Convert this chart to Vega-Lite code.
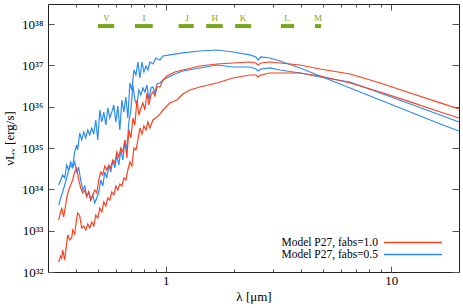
{
  "$schema": "https://vega.github.io/schema/vega-lite/v6.json",
  "width": 411,
  "height": 268,
  "autosize": {"type": "none"},
  "padding": {"left": 48, "top": 4, "right": 4, "bottom": 36},
  "config": {
    "view": {"stroke": "#222", "strokeWidth": 1},
    "font": "Liberation Serif",
    "axis": {"domain": false, "grid": false, "labelFont": "Liberation Serif", "titleFont": "Liberation Serif", "labelColor": "#000", "titleColor": "#000", "labelFontSize": 13, "titleFontSize": 13, "titleFontWeight": "normal", "tickColor": "#555", "tickWidth": 1},
    "legend": {"labelFont": "Liberation Serif"}
  },
  "datasets": {
    "bands": [
      {"band": "V", "lo": 0.50, "hi": 0.59, "center": 0.545},
      {"band": "I", "lo": 0.73, "hi": 0.875, "center": 0.80},
      {"band": "J", "lo": 1.14, "hi": 1.33, "center": 1.24},
      {"band": "H", "lo": 1.51, "hi": 1.79, "center": 1.65},
      {"band": "K", "lo": 2.03, "hi": 2.39, "center": 2.2},
      {"band": "L", "lo": 3.24, "hi": 3.71, "center": 3.45},
      {"band": "M", "lo": 4.59, "hi": 4.89, "center": 4.73}
    ],
    "spectra": [
      {"curve": "B1", "model": "fabs=0.5", "wavelength": 0.3346, "nuLnu": 1.28e34},
      {"curve": "B1", "model": "fabs=0.5", "wavelength": 0.3415, "nuLnu": 1.69e34},
      {"curve": "B1", "model": "fabs=0.5", "wavelength": 0.3486, "nuLnu": 2.23e34},
      {"curve": "B1", "model": "fabs=0.5", "wavelength": 0.3558, "nuLnu": 1.89e34},
      {"curve": "B1", "model": "fabs=0.5", "wavelength": 0.3631, "nuLnu": 3.90e34},
      {"curve": "B1", "model": "fabs=0.5", "wavelength": 0.3706, "nuLnu": 2.95e34},
      {"curve": "B1", "model": "fabs=0.5", "wavelength": 0.3783, "nuLnu": 4.61e34},
      {"curve": "B1", "model": "fabs=0.5", "wavelength": 0.3861, "nuLnu": 3.69e34},
      {"curve": "B1", "model": "fabs=0.5", "wavelength": 0.3941, "nuLnu": 8.05e34},
      {"curve": "B1", "model": "fabs=0.5", "wavelength": 0.4023, "nuLnu": 1.19e35},
      {"curve": "B1", "model": "fabs=0.5", "wavelength": 0.4064, "nuLnu": 8.99e34},
      {"curve": "B1", "model": "fabs=0.5", "wavelength": 0.4148, "nuLnu": 2.32e35},
      {"curve": "B1", "model": "fabs=0.5", "wavelength": 0.4234, "nuLnu": 1.57e35},
      {"curve": "B1", "model": "fabs=0.5", "wavelength": 0.4322, "nuLnu": 2.45e35},
      {"curve": "B1", "model": "fabs=0.5", "wavelength": 0.4411, "nuLnu": 1.76e35},
      {"curve": "B1", "model": "fabs=0.5", "wavelength": 0.4503, "nuLnu": 2.74e35},
      {"curve": "B1", "model": "fabs=0.5", "wavelength": 0.4596, "nuLnu": 2.08e35},
      {"curve": "B1", "model": "fabs=0.5", "wavelength": 0.4691, "nuLnu": 3.07e35},
      {"curve": "B1", "model": "fabs=0.5", "wavelength": 0.4789, "nuLnu": 2.19e35},
      {"curve": "B1", "model": "fabs=0.5", "wavelength": 0.4888, "nuLnu": 4.79e35},
      {"curve": "B1", "model": "fabs=0.5", "wavelength": 0.4989, "nuLnu": 1.57e35},
      {"curve": "B1", "model": "fabs=0.5", "wavelength": 0.5093, "nuLnu": 8.37e35},
      {"curve": "B1", "model": "fabs=0.5", "wavelength": 0.5198, "nuLnu": 4.29e35},
      {"curve": "B1", "model": "fabs=0.5", "wavelength": 0.5306, "nuLnu": 7.48e35},
      {"curve": "B1", "model": "fabs=0.5", "wavelength": 0.5416, "nuLnu": 3.63e35},
      {"curve": "B1", "model": "fabs=0.5", "wavelength": 0.5528, "nuLnu": 9.35e35},
      {"curve": "B1", "model": "fabs=0.5", "wavelength": 0.5642, "nuLnu": 5.36e35},
      {"curve": "B1", "model": "fabs=0.5", "wavelength": 0.5759, "nuLnu": 7.48e35},
      {"curve": "B1", "model": "fabs=0.5", "wavelength": 0.5878, "nuLnu": 1.105e36},
      {"curve": "B1", "model": "fabs=0.5", "wavelength": 0.6000, "nuLnu": 4.29e35},
      {"curve": "B1", "model": "fabs=0.5", "wavelength": 0.6124, "nuLnu": 1.046e36},
      {"curve": "B1", "model": "fabs=0.5", "wavelength": 0.6251, "nuLnu": 2.74e35},
      {"curve": "B1", "model": "fabs=0.5", "wavelength": 0.6381, "nuLnu": 1.46e36},
      {"curve": "B1", "model": "fabs=0.5", "wavelength": 0.6513, "nuLnu": 7.48e35},
      {"curve": "B1", "model": "fabs=0.5", "wavelength": 0.6648, "nuLnu": 1.73e36},
      {"curve": "B1", "model": "fabs=0.5", "wavelength": 0.6785, "nuLnu": 5.36e35},
      {"curve": "B1", "model": "fabs=0.5", "wavelength": 0.6926, "nuLnu": 3.77e36},
      {"curve": "B1", "model": "fabs=0.5", "wavelength": 0.7069, "nuLnu": 2.55e36},
      {"curve": "B1", "model": "fabs=0.5", "wavelength": 0.7216, "nuLnu": 7.78e36},
      {"curve": "B1", "model": "fabs=0.5", "wavelength": 0.7365, "nuLnu": 5.89e36},
      {"curve": "B1", "model": "fabs=0.5", "wavelength": 0.7518, "nuLnu": 1.215e37},
      {"curve": "B1", "model": "fabs=0.5", "wavelength": 0.7673, "nuLnu": 4.98e36},
      {"curve": "B1", "model": "fabs=0.5", "wavelength": 0.7832, "nuLnu": 1.215e37},
      {"curve": "B1", "model": "fabs=0.5", "wavelength": 0.7994, "nuLnu": 6.96e36},
      {"curve": "B1", "model": "fabs=0.5", "wavelength": 0.8160, "nuLnu": 9.72e36},
      {"curve": "B1", "model": "fabs=0.5", "wavelength": 0.8329, "nuLnu": 7.78e36},
      {"curve": "B1", "model": "fabs=0.5", "wavelength": 0.8501, "nuLnu": 1.215e37},
      {"curve": "B1", "model": "fabs=0.5", "wavelength": 0.8767, "nuLnu": 1.087e37},
      {"curve": "B1", "model": "fabs=0.5", "wavelength": 0.9041, "nuLnu": 1.519e37},
      {"curve": "B1", "model": "fabs=0.5", "wavelength": 0.9419, "nuLnu": 1.359e37},
      {"curve": "B1", "model": "fabs=0.5", "wavelength": 0.9713, "nuLnu": 1.698e37},
      {"curve": "B1", "model": "fabs=0.5", "wavelength": 1.0418, "nuLnu": 1.80e37},
      {"curve": "B1", "model": "fabs=0.5", "wavelength": 1.1901, "nuLnu": 2.01e37},
      {"curve": "B1", "model": "fabs=0.5", "wavelength": 1.4158, "nuLnu": 2.24e37},
      {"curve": "B1", "model": "fabs=0.5", "wavelength": 1.6856, "nuLnu": 2.37e37},
      {"curve": "B1", "model": "fabs=0.5", "wavelength": 1.9852, "nuLnu": 2.12e37},
      {"curve": "B1", "model": "fabs=0.5", "wavelength": 2.3604, "nuLnu": 1.80e37},
      {"curve": "B1", "model": "fabs=0.5", "wavelength": 2.5119, "nuLnu": 1.606e37},
      {"curve": "B1", "model": "fabs=0.5", "wavelength": 2.5643, "nuLnu": 1.359e37},
      {"curve": "B1", "model": "fabs=0.5", "wavelength": 2.6444, "nuLnu": 1.606e37},
      {"curve": "B1", "model": "fabs=0.5", "wavelength": 2.8953, "nuLnu": 1.519e37},
      {"curve": "B1", "model": "fabs=0.5", "wavelength": 3.2118, "nuLnu": 1.285e37},
      {"curve": "B1", "model": "fabs=0.5", "wavelength": 3.9397, "nuLnu": 8.70e36},
      {"curve": "B1", "model": "fabs=0.5", "wavelength": 4.8339, "nuLnu": 5.57e36},
      {"curve": "B1", "model": "fabs=0.5", "wavelength": 6.574, "nuLnu": 2.85e36},
      {"curve": "B1", "model": "fabs=0.5", "wavelength": 8.9337, "nuLnu": 1.46e36},
      {"curve": "B1", "model": "fabs=0.5", "wavelength": 12.149, "nuLnu": 7.48e35},
      {"curve": "B1", "model": "fabs=0.5", "wavelength": 16.517, "nuLnu": 3.83e35},
      {"curve": "B1", "model": "fabs=0.5", "wavelength": 20, "nuLnu": 2.59e35},

      {"curve": "B2", "model": "fabs=0.5", "wavelength": 0.3346, "nuLnu": 4.19e33},
      {"curve": "B2", "model": "fabs=0.5", "wavelength": 0.3415, "nuLnu": 6.19e33},
      {"curve": "B2", "model": "fabs=0.5", "wavelength": 0.3486, "nuLnu": 8.65e33},
      {"curve": "B2", "model": "fabs=0.5", "wavelength": 0.3558, "nuLnu": 1.28e34},
      {"curve": "B2", "model": "fabs=0.5", "wavelength": 0.3631, "nuLnu": 1.89e34},
      {"curve": "B2", "model": "fabs=0.5", "wavelength": 0.3706, "nuLnu": 2.95e34},
      {"curve": "B2", "model": "fabs=0.5", "wavelength": 0.3783, "nuLnu": 3.90e34},
      {"curve": "B2", "model": "fabs=0.5", "wavelength": 0.3861, "nuLnu": 3.30e34},
      {"curve": "B2", "model": "fabs=0.5", "wavelength": 0.3941, "nuLnu": 4.61e34},
      {"curve": "B2", "model": "fabs=0.5", "wavelength": 0.4023, "nuLnu": 2.64e34},
      {"curve": "B2", "model": "fabs=0.5", "wavelength": 0.4106, "nuLnu": 3.30e34},
      {"curve": "B2", "model": "fabs=0.5", "wavelength": 0.4191, "nuLnu": 1.69e34},
      {"curve": "B2", "model": "fabs=0.5", "wavelength": 0.4278, "nuLnu": 9.67e33},
      {"curve": "B2", "model": "fabs=0.5", "wavelength": 0.4366, "nuLnu": 1.21e34},
      {"curve": "B2", "model": "fabs=0.5", "wavelength": 0.4457, "nuLnu": 6.92e33},
      {"curve": "B2", "model": "fabs=0.5", "wavelength": 0.4549, "nuLnu": 8.65e33},
      {"curve": "B2", "model": "fabs=0.5", "wavelength": 0.4643, "nuLnu": 5.54e33},
      {"curve": "B2", "model": "fabs=0.5", "wavelength": 0.4740, "nuLnu": 7.32e33},
      {"curve": "B2", "model": "fabs=0.5", "wavelength": 0.4838, "nuLnu": 4.69e33},
      {"curve": "B2", "model": "fabs=0.5", "wavelength": 0.4938, "nuLnu": 6.19e33},
      {"curve": "B2", "model": "fabs=0.5", "wavelength": 0.5040, "nuLnu": 8.65e33},
      {"curve": "B2", "model": "fabs=0.5", "wavelength": 0.5145, "nuLnu": 1.69e34},
      {"curve": "B2", "model": "fabs=0.5", "wavelength": 0.5251, "nuLnu": 1.21e34},
      {"curve": "B2", "model": "fabs=0.5", "wavelength": 0.5360, "nuLnu": 2.64e34},
      {"curve": "B2", "model": "fabs=0.5", "wavelength": 0.5471, "nuLnu": 1.89e34},
      {"curve": "B2", "model": "fabs=0.5", "wavelength": 0.5585, "nuLnu": 3.69e34},
      {"curve": "B2", "model": "fabs=0.5", "wavelength": 0.5700, "nuLnu": 2.64e34},
      {"curve": "B2", "model": "fabs=0.5", "wavelength": 0.5818, "nuLnu": 5.15e34},
      {"curve": "B2", "model": "fabs=0.5", "wavelength": 0.5939, "nuLnu": 3.30e34},
      {"curve": "B2", "model": "fabs=0.5", "wavelength": 0.6062, "nuLnu": 6.81e34},
      {"curve": "B2", "model": "fabs=0.5", "wavelength": 0.6187, "nuLnu": 3.90e34},
      {"curve": "B2", "model": "fabs=0.5", "wavelength": 0.6316, "nuLnu": 8.99e34},
      {"curve": "B2", "model": "fabs=0.5", "wavelength": 0.6446, "nuLnu": 5.15e34},
      {"curve": "B2", "model": "fabs=0.5", "wavelength": 0.6580, "nuLnu": 1.57e35},
      {"curve": "B2", "model": "fabs=0.5", "wavelength": 0.6716, "nuLnu": 8.99e34},
      {"curve": "B2", "model": "fabs=0.5", "wavelength": 0.6855, "nuLnu": 4.29e35},
      {"curve": "B2", "model": "fabs=0.5", "wavelength": 0.6997, "nuLnu": 8.37e35},
      {"curve": "B2", "model": "fabs=0.5", "wavelength": 0.7142, "nuLnu": 3.37e36},
      {"curve": "B2", "model": "fabs=0.5", "wavelength": 0.7290, "nuLnu": 1.46e36},
      {"curve": "B2", "model": "fabs=0.5", "wavelength": 0.7441, "nuLnu": 1.105e36},
      {"curve": "B2", "model": "fabs=0.5", "wavelength": 0.7595, "nuLnu": 2.55e36},
      {"curve": "B2", "model": "fabs=0.5", "wavelength": 0.7752, "nuLnu": 1.93e36},
      {"curve": "B2", "model": "fabs=0.5", "wavelength": 0.7913, "nuLnu": 2.85e36},
      {"curve": "B2", "model": "fabs=0.5", "wavelength": 0.8077, "nuLnu": 2.28e36},
      {"curve": "B2", "model": "fabs=0.5", "wavelength": 0.8244, "nuLnu": 3.37e36},
      {"curve": "B2", "model": "fabs=0.5", "wavelength": 0.8415, "nuLnu": 1.46e36},
      {"curve": "B2", "model": "fabs=0.5", "wavelength": 0.8589, "nuLnu": 2.85e36},
      {"curve": "B2", "model": "fabs=0.5", "wavelength": 0.8767, "nuLnu": 3.02e36},
      {"curve": "B2", "model": "fabs=0.5", "wavelength": 0.8948, "nuLnu": 2.16e36},
      {"curve": "B2", "model": "fabs=0.5", "wavelength": 0.9134, "nuLnu": 3.57e36},
      {"curve": "B2", "model": "fabs=0.5", "wavelength": 0.9419, "nuLnu": 3.77e36},
      {"curve": "B2", "model": "fabs=0.5", "wavelength": 0.9713, "nuLnu": 4.46e36},
      {"curve": "B2", "model": "fabs=0.5", "wavelength": 1.0103, "nuLnu": 4.98e36},
      {"curve": "B2", "model": "fabs=0.5", "wavelength": 1.0965, "nuLnu": 6.23e36},
      {"curve": "B2", "model": "fabs=0.5", "wavelength": 1.1901, "nuLnu": 7.36e36},
      {"curve": "B2", "model": "fabs=0.5", "wavelength": 1.4158, "nuLnu": 8.70e36},
      {"curve": "B2", "model": "fabs=0.5", "wavelength": 1.6856, "nuLnu": 1.028e37},
      {"curve": "B2", "model": "fabs=0.5", "wavelength": 1.9852, "nuLnu": 9.20e36},
      {"curve": "B2", "model": "fabs=0.5", "wavelength": 2.3604, "nuLnu": 9.20e36},
      {"curve": "B2", "model": "fabs=0.5", "wavelength": 2.5119, "nuLnu": 8.23e36},
      {"curve": "B2", "model": "fabs=0.5", "wavelength": 2.5643, "nuLnu": 7.36e36},
      {"curve": "B2", "model": "fabs=0.5", "wavelength": 2.6444, "nuLnu": 8.23e36},
      {"curve": "B2", "model": "fabs=0.5", "wavelength": 2.8953, "nuLnu": 8.70e36},
      {"curve": "B2", "model": "fabs=0.5", "wavelength": 3.2118, "nuLnu": 7.78e36},
      {"curve": "B2", "model": "fabs=0.5", "wavelength": 3.9397, "nuLnu": 6.58e36},
      {"curve": "B2", "model": "fabs=0.5", "wavelength": 4.8339, "nuLnu": 5.27e36},
      {"curve": "B2", "model": "fabs=0.5", "wavelength": 6.574, "nuLnu": 3.99e36},
      {"curve": "B2", "model": "fabs=0.5", "wavelength": 8.9337, "nuLnu": 2.16e36},
      {"curve": "B2", "model": "fabs=0.5", "wavelength": 12.149, "nuLnu": 1.17e36},
      {"curve": "B2", "model": "fabs=0.5", "wavelength": 16.517, "nuLnu": 6.33e35},
      {"curve": "B2", "model": "fabs=0.5", "wavelength": 20, "nuLnu": 4.29e35},

      {"curve": "R1", "model": "fabs=1.0", "wavelength": 0.3346, "nuLnu": 1.82e33},
      {"curve": "R1", "model": "fabs=1.0", "wavelength": 0.3415, "nuLnu": 2.84e33},
      {"curve": "R1", "model": "fabs=1.0", "wavelength": 0.3450, "nuLnu": 3.55e33},
      {"curve": "R1", "model": "fabs=1.0", "wavelength": 0.3521, "nuLnu": 2.15e33},
      {"curve": "R1", "model": "fabs=1.0", "wavelength": 0.3594, "nuLnu": 4.19e33},
      {"curve": "R1", "model": "fabs=1.0", "wavelength": 0.3631, "nuLnu": 6.19e33},
      {"curve": "R1", "model": "fabs=1.0", "wavelength": 0.3706, "nuLnu": 9.67e33},
      {"curve": "R1", "model": "fabs=1.0", "wavelength": 0.3783, "nuLnu": 1.28e34},
      {"curve": "R1", "model": "fabs=1.0", "wavelength": 0.3861, "nuLnu": 1.69e34},
      {"curve": "R1", "model": "fabs=1.0", "wavelength": 0.3941, "nuLnu": 2.64e34},
      {"curve": "R1", "model": "fabs=1.0", "wavelength": 0.4023, "nuLnu": 3.30e34},
      {"curve": "R1", "model": "fabs=1.0", "wavelength": 0.4106, "nuLnu": 1.69e34},
      {"curve": "R1", "model": "fabs=1.0", "wavelength": 0.4191, "nuLnu": 1.08e34},
      {"curve": "R1", "model": "fabs=1.0", "wavelength": 0.4278, "nuLnu": 8.18e33},
      {"curve": "R1", "model": "fabs=1.0", "wavelength": 0.4366, "nuLnu": 9.67e33},
      {"curve": "R1", "model": "fabs=1.0", "wavelength": 0.4457, "nuLnu": 6.55e33},
      {"curve": "R1", "model": "fabs=1.0", "wavelength": 0.4549, "nuLnu": 8.65e33},
      {"curve": "R1", "model": "fabs=1.0", "wavelength": 0.4643, "nuLnu": 5.54e33},
      {"curve": "R1", "model": "fabs=1.0", "wavelength": 0.4740, "nuLnu": 7.32e33},
      {"curve": "R1", "model": "fabs=1.0", "wavelength": 0.4838, "nuLnu": 9.67e33},
      {"curve": "R1", "model": "fabs=1.0", "wavelength": 0.4938, "nuLnu": 8.18e33},
      {"curve": "R1", "model": "fabs=1.0", "wavelength": 0.5040, "nuLnu": 1.69e34},
      {"curve": "R1", "model": "fabs=1.0", "wavelength": 0.5145, "nuLnu": 2.64e34},
      {"curve": "R1", "model": "fabs=1.0", "wavelength": 0.5251, "nuLnu": 2.23e34},
      {"curve": "R1", "model": "fabs=1.0", "wavelength": 0.5360, "nuLnu": 3.69e34},
      {"curve": "R1", "model": "fabs=1.0", "wavelength": 0.5471, "nuLnu": 2.95e34},
      {"curve": "R1", "model": "fabs=1.0", "wavelength": 0.5585, "nuLnu": 3.90e34},
      {"curve": "R1", "model": "fabs=1.0", "wavelength": 0.5700, "nuLnu": 3.30e34},
      {"curve": "R1", "model": "fabs=1.0", "wavelength": 0.5818, "nuLnu": 5.15e34},
      {"curve": "R1", "model": "fabs=1.0", "wavelength": 0.5939, "nuLnu": 4.36e34},
      {"curve": "R1", "model": "fabs=1.0", "wavelength": 0.6062, "nuLnu": 8.05e34},
      {"curve": "R1", "model": "fabs=1.0", "wavelength": 0.6187, "nuLnu": 6.09e34},
      {"curve": "R1", "model": "fabs=1.0", "wavelength": 0.6316, "nuLnu": 1.006e35},
      {"curve": "R1", "model": "fabs=1.0", "wavelength": 0.6446, "nuLnu": 8.05e34},
      {"curve": "R1", "model": "fabs=1.0", "wavelength": 0.6580, "nuLnu": 1.57e35},
      {"curve": "R1", "model": "fabs=1.0", "wavelength": 0.6716, "nuLnu": 5.76e34},
      {"curve": "R1", "model": "fabs=1.0", "wavelength": 0.6855, "nuLnu": 2.74e35},
      {"curve": "R1", "model": "fabs=1.0", "wavelength": 0.6997, "nuLnu": 1.76e35},
      {"curve": "R1", "model": "fabs=1.0", "wavelength": 0.7142, "nuLnu": 5.36e35},
      {"curve": "R1", "model": "fabs=1.0", "wavelength": 0.7290, "nuLnu": 3.63e35},
      {"curve": "R1", "model": "fabs=1.0", "wavelength": 0.7441, "nuLnu": 1.46e36},
      {"curve": "R1", "model": "fabs=1.0", "wavelength": 0.7595, "nuLnu": 6.33e35},
      {"curve": "R1", "model": "fabs=1.0", "wavelength": 0.7752, "nuLnu": 9.35e35},
      {"curve": "R1", "model": "fabs=1.0", "wavelength": 0.7913, "nuLnu": 1.24e36},
      {"curve": "R1", "model": "fabs=1.0", "wavelength": 0.8077, "nuLnu": 8.37e35},
      {"curve": "R1", "model": "fabs=1.0", "wavelength": 0.8244, "nuLnu": 2.16e36},
      {"curve": "R1", "model": "fabs=1.0", "wavelength": 0.8415, "nuLnu": 1.105e36},
      {"curve": "R1", "model": "fabs=1.0", "wavelength": 0.8589, "nuLnu": 1.93e36},
      {"curve": "R1", "model": "fabs=1.0", "wavelength": 0.8767, "nuLnu": 2.28e36},
      {"curve": "R1", "model": "fabs=1.0", "wavelength": 0.8948, "nuLnu": 1.83e36},
      {"curve": "R1", "model": "fabs=1.0", "wavelength": 0.9134, "nuLnu": 3.02e36},
      {"curve": "R1", "model": "fabs=1.0", "wavelength": 0.9419, "nuLnu": 3.02e36},
      {"curve": "R1", "model": "fabs=1.0", "wavelength": 0.9713, "nuLnu": 4.46e36},
      {"curve": "R1", "model": "fabs=1.0", "wavelength": 1.0103, "nuLnu": 5.57e36},
      {"curve": "R1", "model": "fabs=1.0", "wavelength": 1.0965, "nuLnu": 6.96e36},
      {"curve": "R1", "model": "fabs=1.0", "wavelength": 1.1901, "nuLnu": 7.78e36},
      {"curve": "R1", "model": "fabs=1.0", "wavelength": 1.4158, "nuLnu": 9.72e36},
      {"curve": "R1", "model": "fabs=1.0", "wavelength": 1.6856, "nuLnu": 1.087e37},
      {"curve": "R1", "model": "fabs=1.0", "wavelength": 1.9852, "nuLnu": 1.150e37},
      {"curve": "R1", "model": "fabs=1.0", "wavelength": 2.3604, "nuLnu": 1.215e37},
      {"curve": "R1", "model": "fabs=1.0", "wavelength": 2.5119, "nuLnu": 1.150e37},
      {"curve": "R1", "model": "fabs=1.0", "wavelength": 2.5643, "nuLnu": 1.028e37},
      {"curve": "R1", "model": "fabs=1.0", "wavelength": 2.6444, "nuLnu": 1.150e37},
      {"curve": "R1", "model": "fabs=1.0", "wavelength": 2.8953, "nuLnu": 1.215e37},
      {"curve": "R1", "model": "fabs=1.0", "wavelength": 3.2118, "nuLnu": 1.150e37},
      {"curve": "R1", "model": "fabs=1.0", "wavelength": 3.9397, "nuLnu": 1.028e37},
      {"curve": "R1", "model": "fabs=1.0", "wavelength": 4.8339, "nuLnu": 8.23e36},
      {"curve": "R1", "model": "fabs=1.0", "wavelength": 6.574, "nuLnu": 6.23e36},
      {"curve": "R1", "model": "fabs=1.0", "wavelength": 8.9337, "nuLnu": 3.77e36},
      {"curve": "R1", "model": "fabs=1.0", "wavelength": 12.149, "nuLnu": 2.16e36},
      {"curve": "R1", "model": "fabs=1.0", "wavelength": 16.517, "nuLnu": 1.24e36},
      {"curve": "R1", "model": "fabs=1.0", "wavelength": 20, "nuLnu": 8.85e35},

      {"curve": "R2", "model": "fabs=1.0", "wavelength": 0.3346, "nuLnu": 1.75e32},
      {"curve": "R2", "model": "fabs=1.0", "wavelength": 0.3415, "nuLnu": 2.44e32},
      {"curve": "R2", "model": "fabs=1.0", "wavelength": 0.3450, "nuLnu": 2.18e32},
      {"curve": "R2", "model": "fabs=1.0", "wavelength": 0.3486, "nuLnu": 3.41e32},
      {"curve": "R2", "model": "fabs=1.0", "wavelength": 0.3558, "nuLnu": 1.95e32},
      {"curve": "R2", "model": "fabs=1.0", "wavelength": 0.3631, "nuLnu": 5.04e32},
      {"curve": "R2", "model": "fabs=1.0", "wavelength": 0.3669, "nuLnu": 7.87e32},
      {"curve": "R2", "model": "fabs=1.0", "wavelength": 0.3744, "nuLnu": 5.95e32},
      {"curve": "R2", "model": "fabs=1.0", "wavelength": 0.3822, "nuLnu": 6.66e32},
      {"curve": "R2", "model": "fabs=1.0", "wavelength": 0.3861, "nuLnu": 1.04e33},
      {"curve": "R2", "model": "fabs=1.0", "wavelength": 0.3941, "nuLnu": 8.32e32},
      {"curve": "R2", "model": "fabs=1.0", "wavelength": 0.4023, "nuLnu": 2.03e33},
      {"curve": "R2", "model": "fabs=1.0", "wavelength": 0.4064, "nuLnu": 2.68e33},
      {"curve": "R2", "model": "fabs=1.0", "wavelength": 0.4148, "nuLnu": 2.27e33},
      {"curve": "R2", "model": "fabs=1.0", "wavelength": 0.4234, "nuLnu": 1.16e33},
      {"curve": "R2", "model": "fabs=1.0", "wavelength": 0.4322, "nuLnu": 1.30e33},
      {"curve": "R2", "model": "fabs=1.0", "wavelength": 0.4411, "nuLnu": 1.04e33},
      {"curve": "R2", "model": "fabs=1.0", "wavelength": 0.4503, "nuLnu": 1.45e33},
      {"curve": "R2", "model": "fabs=1.0", "wavelength": 0.4596, "nuLnu": 1.16e33},
      {"curve": "R2", "model": "fabs=1.0", "wavelength": 0.4691, "nuLnu": 1.62e33},
      {"curve": "R2", "model": "fabs=1.0", "wavelength": 0.4789, "nuLnu": 1.30e33},
      {"curve": "R2", "model": "fabs=1.0", "wavelength": 0.4888, "nuLnu": 2.40e33},
      {"curve": "R2", "model": "fabs=1.0", "wavelength": 0.4989, "nuLnu": 2.03e33},
      {"curve": "R2", "model": "fabs=1.0", "wavelength": 0.5093, "nuLnu": 3.55e33},
      {"curve": "R2", "model": "fabs=1.0", "wavelength": 0.5198, "nuLnu": 2.84e33},
      {"curve": "R2", "model": "fabs=1.0", "wavelength": 0.5306, "nuLnu": 4.95e33},
      {"curve": "R2", "model": "fabs=1.0", "wavelength": 0.5416, "nuLnu": 3.96e33},
      {"curve": "R2", "model": "fabs=1.0", "wavelength": 0.5528, "nuLnu": 6.19e33},
      {"curve": "R2", "model": "fabs=1.0", "wavelength": 0.5642, "nuLnu": 5.54e33},
      {"curve": "R2", "model": "fabs=1.0", "wavelength": 0.5759, "nuLnu": 8.65e33},
      {"curve": "R2", "model": "fabs=1.0", "wavelength": 0.5878, "nuLnu": 7.32e33},
      {"curve": "R2", "model": "fabs=1.0", "wavelength": 0.6000, "nuLnu": 1.21e34},
      {"curve": "R2", "model": "fabs=1.0", "wavelength": 0.6124, "nuLnu": 9.67e33},
      {"curve": "R2", "model": "fabs=1.0", "wavelength": 0.6251, "nuLnu": 1.35e34},
      {"curve": "R2", "model": "fabs=1.0", "wavelength": 0.6381, "nuLnu": 1.21e34},
      {"curve": "R2", "model": "fabs=1.0", "wavelength": 0.6513, "nuLnu": 1.89e34},
      {"curve": "R2", "model": "fabs=1.0", "wavelength": 0.6648, "nuLnu": 1.69e34},
      {"curve": "R2", "model": "fabs=1.0", "wavelength": 0.6785, "nuLnu": 2.95e34},
      {"curve": "R2", "model": "fabs=1.0", "wavelength": 0.6926, "nuLnu": 4.61e34},
      {"curve": "R2", "model": "fabs=1.0", "wavelength": 0.7069, "nuLnu": 3.69e34},
      {"curve": "R2", "model": "fabs=1.0", "wavelength": 0.7216, "nuLnu": 1.006e35},
      {"curve": "R2", "model": "fabs=1.0", "wavelength": 0.7365, "nuLnu": 8.99e34},
      {"curve": "R2", "model": "fabs=1.0", "wavelength": 0.7518, "nuLnu": 1.57e35},
      {"curve": "R2", "model": "fabs=1.0", "wavelength": 0.7673, "nuLnu": 3.07e35},
      {"curve": "R2", "model": "fabs=1.0", "wavelength": 0.7832, "nuLnu": 2.19e35},
      {"curve": "R2", "model": "fabs=1.0", "wavelength": 0.7994, "nuLnu": 3.43e35},
      {"curve": "R2", "model": "fabs=1.0", "wavelength": 0.8160, "nuLnu": 2.74e35},
      {"curve": "R2", "model": "fabs=1.0", "wavelength": 0.8329, "nuLnu": 4.29e35},
      {"curve": "R2", "model": "fabs=1.0", "wavelength": 0.8501, "nuLnu": 3.07e35},
      {"curve": "R2", "model": "fabs=1.0", "wavelength": 0.8767, "nuLnu": 4.79e35},
      {"curve": "R2", "model": "fabs=1.0", "wavelength": 0.9134, "nuLnu": 5.66e35},
      {"curve": "R2", "model": "fabs=1.0", "wavelength": 0.9419, "nuLnu": 6.69e35},
      {"curve": "R2", "model": "fabs=1.0", "wavelength": 0.9713, "nuLnu": 8.37e35},
      {"curve": "R2", "model": "fabs=1.0", "wavelength": 1.0418, "nuLnu": 1.24e36},
      {"curve": "R2", "model": "fabs=1.0", "wavelength": 1.1190, "nuLnu": 1.46e36},
      {"curve": "R2", "model": "fabs=1.0", "wavelength": 1.1901, "nuLnu": 2.04e36},
      {"curve": "R2", "model": "fabs=1.0", "wavelength": 1.2785, "nuLnu": 2.55e36},
      {"curve": "R2", "model": "fabs=1.0", "wavelength": 1.4158, "nuLnu": 3.02e36},
      {"curve": "R2", "model": "fabs=1.0", "wavelength": 1.6856, "nuLnu": 3.77e36},
      {"curve": "R2", "model": "fabs=1.0", "wavelength": 1.9852, "nuLnu": 4.98e36},
      {"curve": "R2", "model": "fabs=1.0", "wavelength": 2.3604, "nuLnu": 5.89e36},
      {"curve": "R2", "model": "fabs=1.0", "wavelength": 2.5119, "nuLnu": 5.89e36},
      {"curve": "R2", "model": "fabs=1.0", "wavelength": 2.5643, "nuLnu": 5.27e36},
      {"curve": "R2", "model": "fabs=1.0", "wavelength": 2.6444, "nuLnu": 5.89e36},
      {"curve": "R2", "model": "fabs=1.0", "wavelength": 2.8953, "nuLnu": 6.58e36},
      {"curve": "R2", "model": "fabs=1.0", "wavelength": 3.2118, "nuLnu": 6.58e36},
      {"curve": "R2", "model": "fabs=1.0", "wavelength": 3.9397, "nuLnu": 6.58e36},
      {"curve": "R2", "model": "fabs=1.0", "wavelength": 4.8339, "nuLnu": 5.57e36},
      {"curve": "R2", "model": "fabs=1.0", "wavelength": 6.574, "nuLnu": 3.77e36},
      {"curve": "R2", "model": "fabs=1.0", "wavelength": 8.9337, "nuLnu": 2.28e36},
      {"curve": "R2", "model": "fabs=1.0", "wavelength": 12.149, "nuLnu": 1.31e36},
      {"curve": "R2", "model": "fabs=1.0", "wavelength": 16.517, "nuLnu": 7.48e35},
      {"curve": "R2", "model": "fabs=1.0", "wavelength": 20, "nuLnu": 5.36e35}
    ]
  },
  "resolve": {"axis": {"x": "independent", "y": "independent"}},
  "layer": [
    {
      "data": {"name": "spectra"},
      "mark": {"type": "line", "strokeWidth": 1.2},
      "encoding": {
        "x": {"field": "wavelength", "type": "quantitative",
          "scale": {"type": "log", "domain": [0.3, 20], "nice": false},
          "axis": {"orient": "bottom", "title": "λ [μm]", "values": [0.4, 0.5, 0.6, 0.7, 0.8, 0.9, 1, 2, 3, 4, 5, 6, 7, 8, 9, 10],
            "labelExpr": "datum.value == 1 ? '1' : (datum.value == 10 ? '10' : '')",
            "tickSize": {"condition": {"test": "datum.value == 1 || datum.value == 10", "value": -6}, "value": -3},
            "labelPadding": 8, "labelOverlap": false, "labelFlush": false, "titlePadding": 0}},
        "y": {"field": "nuLnu", "type": "quantitative",
          "scale": {"type": "log", "domain": [1e32, 3.08e38], "nice": false},
          "axis": {"orient": "left", "title": "νLᵥ [erg/s]", "values": [1e32, 1e33, 1e34, 1e35, 1e36, 1e37, 1e38],
            "labelExpr": "['10³²','10³³','10³⁴','10³⁵','10³⁶','10³⁷','10³⁸'][round(log(datum.value)/LN10) - 32]",
            "tickSize": -6, "labelPadding": 11, "labelOverlap": false, "labelFlush": false, "titleX": -32}},
        "color": {"field": "model", "type": "nominal",
          "scale": {"domain": ["fabs=1.0", "fabs=0.5"], "range": ["#ff4020", "#2b8cf6"]},
          "legend": {"orient": "none", "legendX": 358.5, "legendY": 232, "title": null,
            "symbolType": "M-5.27,0H5.27", "symbolSize": 121, "symbolStrokeWidth": 1.3,
            "labelAlign": "right", "labelOffset": -41.5, "labelFontSize": 11.5, "labelColor": "#000",
            "rowPadding": 0, "labelExpr": "'Model P27, ' + datum.label"}},
        "detail": {"field": "curve", "type": "nominal"}
      }
    },
    {
      "data": {"name": "bands"},
      "mark": {"type": "rule", "strokeWidth": 4, "color": "#78a61c", "strokeCap": "butt"},
      "encoding": {
        "x": {"field": "lo", "type": "quantitative",
          "axis": {"orient": "top", "title": null, "labels": false, "values": [0.4, 0.5, 0.6, 0.7, 0.8, 0.9, 1, 2, 3, 4, 5, 6, 7, 8, 9, 10],
            "tickSize": {"condition": {"test": "datum.value == 1 || datum.value == 10", "value": -6}, "value": -3}}},
        "x2": {"field": "hi"},
        "y": {"datum": 9.0e37, "type": "quantitative",
          "axis": {"orient": "right", "title": null, "labels": false, "values": [1e32, 1e33, 1e34, 1e35, 1e36, 1e37, 1e38], "tickSize": -7}}
      }
    },
    {
      "data": {"name": "bands"},
      "mark": {"type": "text", "fontSize": 9, "color": "#78a61c", "baseline": "middle", "font": "Liberation Serif"},
      "encoding": {
        "x": {"field": "center", "type": "quantitative", "axis": null},
        "y": {"datum": 1.41e38, "type": "quantitative", "axis": null},
        "text": {"field": "band"}
      }
    }
  ]
}
